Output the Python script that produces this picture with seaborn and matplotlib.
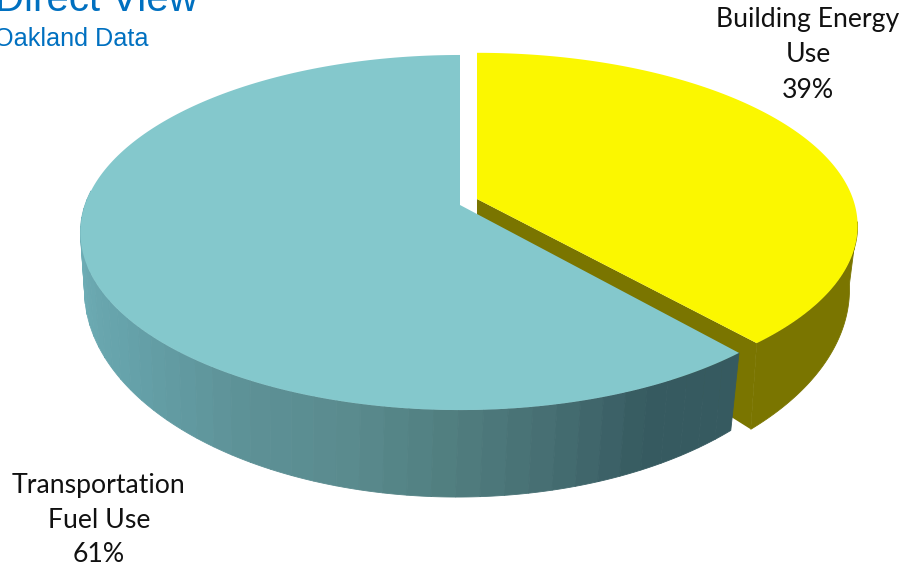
import numpy as np
import matplotlib
matplotlib.use('Agg')
import matplotlib.pyplot as plt
import seaborn as sns

# dane z wykresu
categories = ['Transportation\nFuel Use', 'Building Energy\nUse']
shares = [61, 39]
title = 'Direct View'
subtitle = 'Oakland Data'

sns.set_theme(style='white')

TEAL_TOP = '#84c8cc'
YELLOW_TOP = '#fbf700'
OLIVE = '#7a7500'
BLUE = '#0070c0'
wall_palette = ['#74b6be', '#70b0b8', '#6aa8b0', '#66a3ab', '#629ba2', '#5d9196',
                '#5a8b8f', '#517f80', '#466e72', '#365a60', '#365a60']

# parametry rzutu perspektywicznego (x0, y0, rx, p)
K = 0.155
TEAL_RING = (460, 205, 375, 141.5)
TEAL_BASE = (457, 258, 368, 162)
YELLOW_RING = (477, 199, 376, 138)
YELLOW_BASE = (477, 257, 368, 162)


def project(theta, ring, r=1.0):
    """Kat w stopniach (od gory, zgodnie z zegarem) -> piksele obrazka."""
    t = np.radians(theta)
    t = t + np.radians(1.5) * np.sin(2 * t)
    x, y = r * np.sin(t), r * np.cos(t)
    w = 1 + K * y
    x0, y0, rx, p = ring
    return x0 + rx * x / w, (y0 - p * y) / w


def wall(ax, start, end, color, ring, base):
    th = np.linspace(start, end, 60)
    xt, yt = project(th, ring)
    xb, yb = project(th, base)
    ax.fill(np.r_[xt, xb[::-1]], np.r_[yt, yb[::-1]], color=color, lw=0.6)


def top_face(ax, start, end, color, ring):
    th = np.linspace(start, end, 200)
    xs, ys = project(th, ring)
    xa, ya = project(0.0, ring, r=0.0)
    ax.fill(np.r_[xa, xs], np.r_[ya, ys], color=color, lw=0)


split = 360 * shares[1] / sum(shares)

fig = plt.figure(figsize=(9.06, 5.73), dpi=100)
ax = fig.add_axes([0, 0, 1, 1])
ax.set_xlim(0, 906)
ax.set_ylim(573, 0)
ax.axis('off')

# wycinek zolty: sciana boczna, sciana przekroju, wierzch
wall(ax, 98, split, OLIVE, YELLOW_RING, YELLOW_BASE)
xa_t, ya_t = project(0.0, YELLOW_RING, r=0.0)
xa_b, ya_b = project(0.0, YELLOW_BASE, r=0.0)
xe_t, ye_t = project(split, YELLOW_RING)
xe_b, ye_b = project(split, YELLOW_BASE)
ax.fill([xa_t, xe_t, xe_b, xa_b], [ya_t, ye_t, ye_b, ya_b], color=OLIVE, lw=0)
top_face(ax, 0, split, YELLOW_TOP, YELLOW_RING)

# wycinek turkusowy: pasy sciany od lewej do prawej
n_bands = 44
bands = sns.blend_palette(wall_palette, n_colors=n_bands)
edges = np.linspace(275, split, n_bands + 1)
for i in range(n_bands):
    wall(ax, edges[i], edges[i + 1], bands[i], TEAL_RING, TEAL_BASE)
top_face(ax, split, 360, TEAL_TOP, TEAL_RING)

# opisy
ax.text(808, 55, f'{categories[1]}\n{shares[1]}%', ha='center', va='center',
        fontsize=19.2, family='Lato', color='#111111', linespacing=1.5)
ax.text(99, 520, f'{categories[0]}\n{shares[0]}%', ha='center', va='center',
        fontsize=19.2, family='Lato', color='#111111', linespacing=1.5)
ax.text(-5, 11, title, ha='left', va='baseline', fontsize=29,
        family='Liberation Sans', color=BLUE, clip_on=False)
ax.text(-6, 46, subtitle, ha='left', va='baseline', fontsize=18.1,
        family='Liberation Sans', color=BLUE, clip_on=False)

fig.savefig('out.png', dpi=100)
